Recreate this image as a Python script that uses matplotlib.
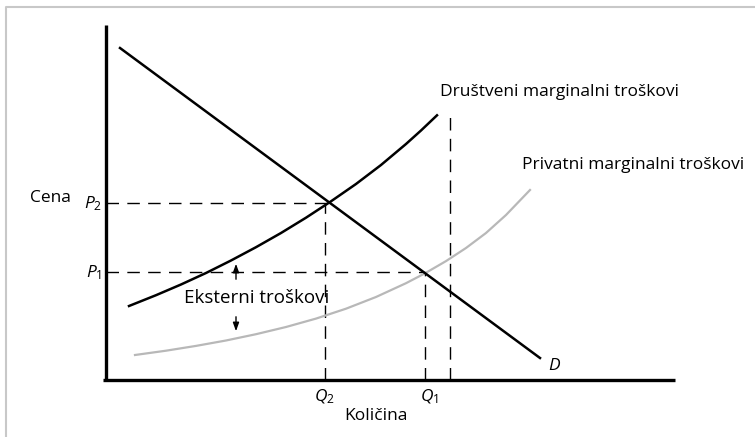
import matplotlib.pyplot as plt

plt.rcParams['font.family'] = ['Open Sans', 'DejaVu Sans']
plt.rcParams['mathtext.fontset'] = 'custom'
plt.rcParams['mathtext.it'] = 'Open Sans:italic'
plt.rcParams['mathtext.rm'] = 'Open Sans'
plt.rcParams['mathtext.default'] = 'it'

# ---------------- DATA (quantity, price) ----------------
demand_q = [14, 434]
demand_p = [332, 22]

social_q = [23, 50, 75, 100, 125, 150, 175, 200, 224, 250, 275, 300, 315, 331]
social_p = [74, 84.8, 95.5, 107, 119.5, 132.8, 147, 162.3, 178, 196, 215, 236, 249.5, 264.7]

private_q = [29, 60, 90, 120, 150, 180, 210, 240, 270, 300, 319, 340, 360, 380, 400, 424]
private_p = [25, 29.3, 34.1, 39.5, 45.8, 53, 61.4, 71.3, 83, 96.8, 106.7, 118.9, 132, 147, 165, 190]

p1, p2 = 108, 177
q1, q2 = 319, 219
q_p2_cross = 222
q_extra, p_extra_top = 344, 270

# ---------------- FIGURE ----------------
fig = plt.figure(figsize=(7.55, 4.37), dpi=100)
ax = fig.add_axes([0, 0, 1, 1])
ax.set_xlim(-106, 649)
ax.set_ylim(-57, 380)
ax.axis('off')

# frame around picture (left and top only visible)
ax.plot([6 / 755, 6 / 755, 1.01], [-0.01, 1 - 7 / 437, 1 - 7 / 437],
        transform=ax.transAxes, color='#c8c8c8', lw=1.5, clip_on=False)

# axes
ax.plot([0, 0], [-1, 355], color='black', lw=2.4, solid_capstyle='butt')
ax.plot([-3, 569], [0, 0], color='black', lw=2.4, solid_capstyle='butt')

dash = dict(color='black', lw=1.0, linestyle=(0, (9, 6)))
ax.plot([0, q_p2_cross], [p2, p2], **dash)
ax.plot([0, q1], [p1, p1], **dash)
ax.plot([q2, q2], [0, p2], **dash)
ax.plot([q1, q1], [0, p1], **dash)
ax.plot([q_extra, q_extra], [0, p_extra_top], **dash)

# curves
ax.plot(private_q, private_p, color='#b8b8b8', lw=1.6)
ax.plot(social_q, social_p, color='black', lw=1.8)
ax.plot(demand_q, demand_p, color='black', lw=1.8)

# external cost arrows
arrow = dict(arrowstyle='-|>,head_length=0.5,head_width=0.18', color='black', lw=1.0)
ax.annotate('', xy=(130, 119), xytext=(130, 98), arrowprops=arrow)
ax.annotate('', xy=(130, 46), xytext=(130, 66), arrowprops=arrow)

fs = 12.5
ax.text(151, 82, 'Eksterni troškovi', fontsize=13.5, ha='center', va='center')
ax.text(-76, 182, 'Cena', fontsize=fs, ha='left', va='center')
ax.text(-4, 176, '$P_2$', fontsize=fs, ha='right', va='center')
ax.text(-4, 107, '$P_1$', fontsize=fs, ha='right', va='center')
ax.text(218, -17, '$Q_2$', fontsize=fs, ha='center', va='center')
ax.text(323, -17, '$Q_1$', fontsize=fs, ha='center', va='center')
ax.text(270, -36, 'Količina', fontsize=fs, ha='center', va='center')
ax.text(442, 14, '$D$', fontsize=fs, ha='left', va='center')
ax.text(334, 288, 'Društveni marginalni troškovi', fontsize=fs, ha='left', va='center')
ax.text(416, 215, 'Privatni marginalni troškovi', fontsize=fs, ha='left', va='center')

fig.savefig('out.png', dpi=100)
